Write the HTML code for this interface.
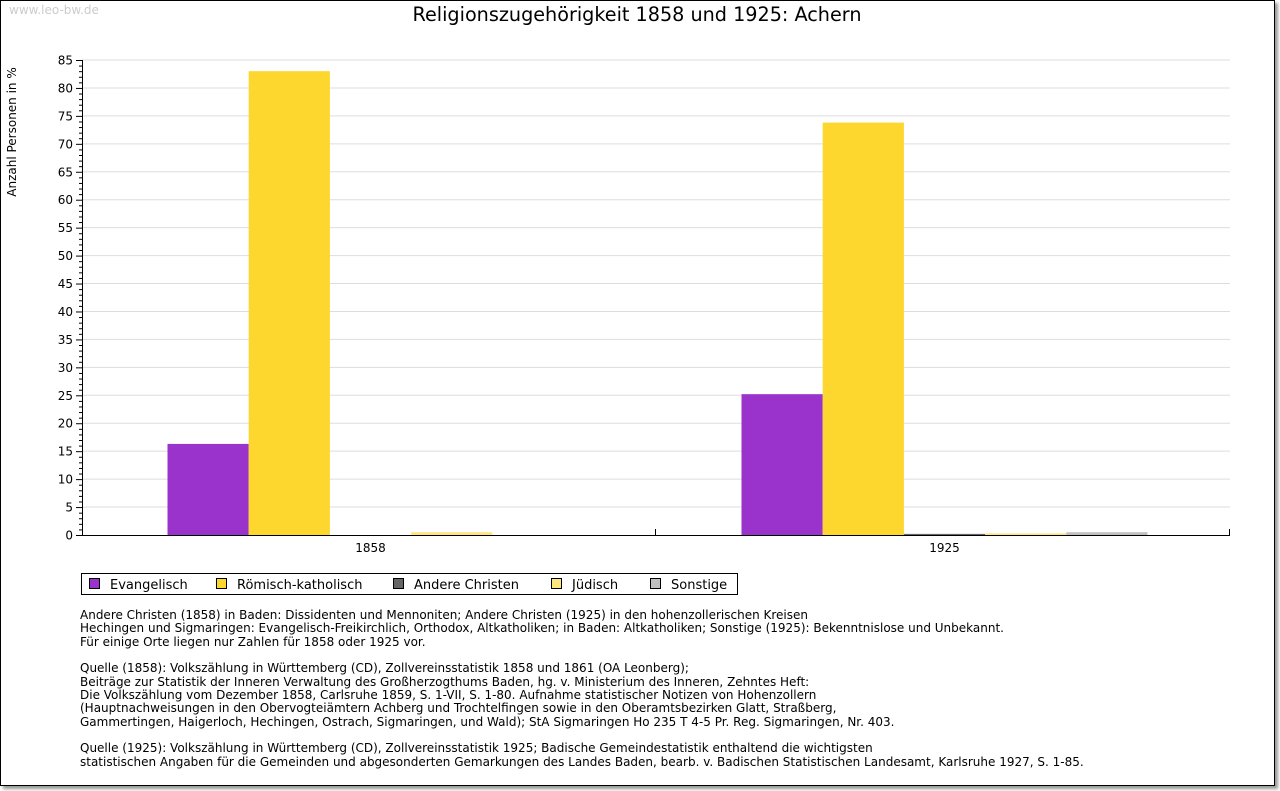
<!DOCTYPE html>
<html><head><meta charset="utf-8"><style>
body{margin:0;background:#fff;width:1280px;height:791px;overflow:hidden;font-family:"DejaVu Sans","Liberation Sans",sans-serif}
#frame{position:absolute;left:0;top:0;width:1273px;height:784px;border:1px solid #000;box-shadow:3px 3px 3px #999;background:#fff}
.t{position:absolute;white-space:nowrap}
#notes{position:absolute;left:80px;top:609px;font-size:12px;line-height:13.35px;color:#000}
</style></head><body>
<div id="frame"></div>
<div class="t" style="left:9px;top:3px;font-size:12px;color:#ccc">www.leo-bw.de</div>
<div class="t" style="left:0;width:1274px;text-align:center;top:3px;font-size:19.2px">Religionszugehörigkeit 1858 und 1925: Achern</div>
<svg id="chart" width="1280" height="600" style="position:absolute;left:0;top:0"></svg>
<div id="notes">Andere Christen (1858) in Baden: Dissidenten und Mennoniten; Andere Christen (1925) in den hohenzollerischen Kreisen<br>Hechingen und Sigmaringen: Evangelisch-Freikirchlich, Orthodox, Altkatholiken; in Baden: Altkatholiken; Sonstige (1925): Bekenntnislose und Unbekannt.<br>Für einige Orte liegen nur Zahlen für 1858 oder 1925 vor.<br><br>Quelle (1858): Volkszählung in Württemberg (CD), Zollvereinsstatistik 1858 und 1861 (OA Leonberg);<br>Beiträge zur Statistik der Inneren Verwaltung des Großherzogthums Baden, hg. v. Ministerium des Inneren, Zehntes Heft:<br>Die Volkszählung vom Dezember 1858, Carlsruhe 1859, S. 1-VII, S. 1-80. Aufnahme statistischer Notizen von Hohenzollern<br>(Hauptnachweisungen in den Obervogteiämtern Achberg und Trochtelfingen sowie in den Oberamtsbezirken Glatt, Straßberg,<br>Gammertingen, Haigerloch, Hechingen, Ostrach, Sigmaringen, und Wald); StA Sigmaringen Ho 235 T 4-5 Pr. Reg. Sigmaringen, Nr. 403.<br><br>Quelle (1925): Volkszählung in Württemberg (CD), Zollvereinsstatistik 1925; Badische Gemeindestatistik enthaltend die wichtigsten<br>statistischen Angaben für die Gemeinden und abgesonderten Gemarkungen des Landes Baden, bearb. v. Badischen Statistischen Landesamt, Karlsruhe 1927, S. 1-85.</div>
<script>
const categories=["1858","1925"];
const seriesNames=["Evangelisch","Römisch-katholisch","Andere Christen","Jüdisch","Sonstige"];
const seriesColors=["#9933cc","#fdd62e","#666666","#ffe57f","#c0c0c0"];
const evangelisch=[16.3,25.2];
const katholisch=[83.0,73.8];
const andereChristen=[0,0.2];
const juedisch=[0.5,0.3];
const sonstige=[0,0.5];
const yTicks=[0,5,10,15,20,25,30,35,40,45,50,55,60,65,70,75,80,85];
const series=[evangelisch,katholisch,andereChristen,juedisch,sonstige];
const NS="http://www.w3.org/2000/svg";
const svg=document.getElementById('chart');
const X0=82,X1=1230,Y0=535,Y1=60,YMAX=85;
const y=v=>Y0-(v/YMAX)*(Y0-Y1);
const catW=(X1-X0)/categories.length,barW=81.2;
function mk(t,a,txt){const e=document.createElementNS(NS,t);for(const k in a)e.setAttribute(k,a[k]);if(txt!==undefined)e.textContent=txt;svg.appendChild(e);return e;}
yTicks.forEach(v=>{
 if(v>0){const g=mk('line',{x1:X0,x2:X1,y1:y(v),y2:y(v),stroke:'#ddd','stroke-width':1});
 
 }
 const l=mk('text',{x:73,y:y(v)+4.5,'text-anchor':'end','font-size':12},String(v));
 
 
 mk('line',{x1:X0-6,x2:X0,y1:y(v)+.5,y2:y(v)+.5,stroke:'#000'});
});
for(let v=0;v<YMAX;v++){if(v%5)mk('line',{x1:X0-3,x2:X0,y1:y(v)+.5,y2:y(v)+.5,stroke:'#000'});}
categories.forEach((c,i)=>{
 const cx=X0+catW*(i+.5)+1.5,start=cx-barW*series.length/2;
 series.forEach((s,j)=>{
  const v=s[i];if(v<=0)return;
  const r=mk('rect',{x:start+j*barW,y:y(v),width:barW,height:Y0-y(v),fill:seriesColors[j]});
  
  
 });
 const t=mk('text',{x:cx,y:552,'text-anchor':'middle','font-size':12},c);
 
 
 mk('line',{x1:X0+catW*(i+1)-.5,x2:X0+catW*(i+1)-.5,y1:Y0,y2:Y0-6,stroke:'#000'});
});
const ax=mk('path',{d:`M${X0+.5} ${Y1} V${Y0+.5} H${X1}`,fill:'none',stroke:'#000'});


const yt=mk('text',{transform:'translate(16,132) rotate(-90)','text-anchor':'middle','font-size':12},'Anzahl Personen in %');


const lb=mk('rect',{x:81.5,y:573.5,width:656,height:21,fill:'#fff',stroke:'#000'});


const lx=[89,216,393,551,650];
seriesNames.forEach((n,j)=>{
 mk('rect',{x:lx[j]+.5,y:578.5,width:10,height:10,fill:seriesColors[j],stroke:'#000'});
 const t=mk('text',{x:lx[j]+21,y:589,'font-size':13},n);
 
 
});
</script>
</body></html>
